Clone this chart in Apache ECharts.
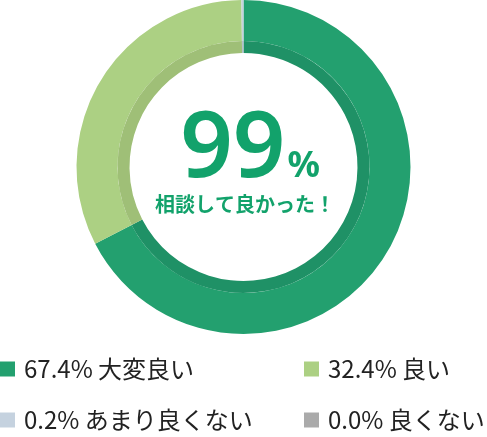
<!DOCTYPE html>
<html>
<head>
<meta charset="utf-8">
<script src="https://cdn.jsdelivr.net/npm/echarts@6/dist/echarts.min.js"></script>
<style>
  html, body { margin: 0; padding: 0; background: #fff; }
  #chart { width: 487px; height: 437px; }
</style>
</head>
<body>
<div id="chart"></div>
<script>
// answers, in chart order (clockwise from top)
const categories = ['大変良い', '良い', 'あまり良くない', '良くない'];
const shares = [67.4, 32.4, 0.2, 0.0];
const ringColors = ['#23a06f', '#acd083', '#c5d2df', '#aaaaaa'];
const bandColors = ['#1f9166', '#9fbf77', '#b4c0cc', '#9c9c9c'];
const headline = '99';
const subline = '相談して良かった！';

const jpFont = '"Noto Sans CJK JP", "Noto Sans", sans-serif';
const green = '#12a26b';

const pieData = (colors) => categories.map((name, i) => ({
  name,
  value: shares[i],
  itemStyle: { color: colors[i] },
}));

// legend placement: two columns, two rows
const legendSpots = [
  { left: 0, top: 357 },
  { left: 304, top: 357 },
  { left: 0, top: 408 },
  { left: 304, top: 408 },
];

const chart = echarts.init(document.getElementById('chart'));

chart.setOption({
  animation: false,
  title: [
    {
      text: `{big|${headline}}{pct|%}`,
      left: 250,
      top: 111,
      textAlign: 'center',
      padding: 0,
      textStyle: {
        rich: {
          big: {
            fontSize: 92,
            fontWeight: 600,
            fontFamily: '"Noto Sans", sans-serif',
            color: green,
            lineHeight: 86,
            verticalAlign: 'bottom',
          },
          pct: {
            fontSize: 36,
            fontWeight: 'bold',
            fontFamily: '"Noto Sans", sans-serif',
            color: green,
            verticalAlign: 'bottom',
            lineHeight: 40,
            padding: [0, 0, 12, 2],
          },
        },
      },
    },
    {
      text: subline,
      left: 245,
      top: 193,
      textAlign: 'center',
      padding: 0,
      textStyle: {
        fontSize: 20,
        fontWeight: 'bold',
        fontFamily: jpFont,
        color: green,
        lineHeight: 22,
      },
    },
  ],
  legend: legendSpots.map((spot, i) => ({
    data: [categories[i]],
    left: spot.left,
    top: spot.top,
    icon: 'rect',
    itemWidth: 15,
    itemHeight: 15,
    padding: 0,
    selectedMode: false,
    formatter: (name) => `${shares[categories.indexOf(name)].toFixed(1)}% ${name}`,
    textStyle: {
      fontSize: 24,
      fontFamily: jpFont,
      color: '#222',
      padding: [0, 0, 0, 4],
    },
  })),
  series: [
    {
      type: 'pie',
      center: [243.5, 167],
      radius: [126, 167],
      startAngle: 90,
      silent: true,
      label: { show: false },
      labelLine: { show: false },
      itemStyle: { borderWidth: 0 },
      data: pieData(ringColors),
    },
    {
      type: 'pie',
      center: [243.5, 167],
      radius: [114, 126],
      startAngle: 90,
      silent: true,
      label: { show: false },
      labelLine: { show: false },
      itemStyle: { borderWidth: 0 },
      data: pieData(bandColors),
    },
  ],
});
</script>
</body>
</html>
